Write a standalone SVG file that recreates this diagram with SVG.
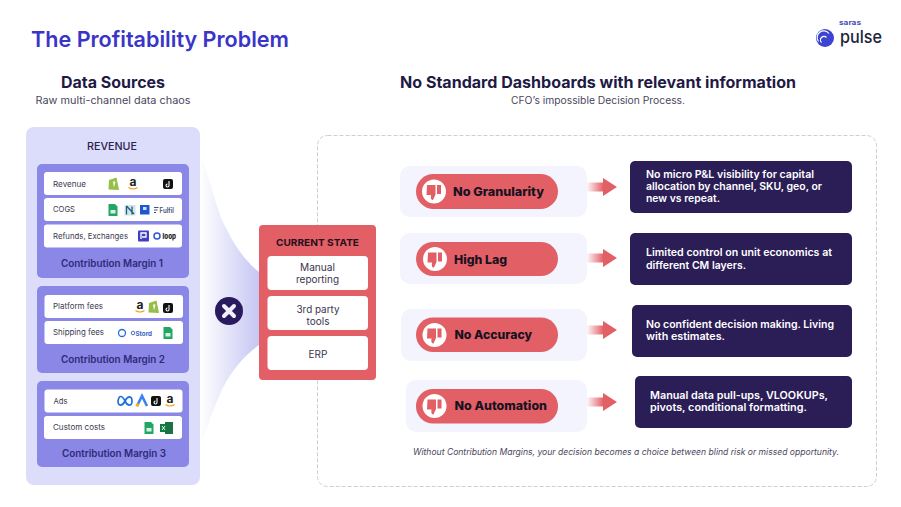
<svg xmlns="http://www.w3.org/2000/svg" width="901" height="507" viewBox="0 0 901 507">
<style>
text{font-family:Inter,"Open Sans","Liberation Sans",sans-serif;fill:#2b2350}
.row{fill:#fff}
.cm{fill:#8a87e6}
.cmt{font-size:10px;font-weight:600;text-anchor:middle;fill:#2f2a78}
.rt{font-size:8px;fill:#3d3a50}
.pale{fill:#f3f4fe}
.pill{fill:#e35f66}
.pt{font-size:12px;font-weight:800;fill:#17121f}
.dark{fill:#2b1e57}
.dt{font-size:10.500px;font-weight:600;fill:#fff}
.cs{font-size:10px;fill:#3a3450;text-anchor:middle}
.h{font-size:15.500px;font-weight:700;fill:#1f1a45;text-anchor:middle}
.s{font-size:10px;fill:#4a4660;text-anchor:middle}
</style>
<defs>
<linearGradient id="fg" x1="0" x2="1" y1="0" y2="0"><stop offset="0" stop-color="#fff"/><stop offset="1" stop-color="#c6c6f3"/></linearGradient>
<linearGradient id="ag" x1="0" x2="1" y1="0" y2="0"><stop offset="0" stop-color="#e35f66" stop-opacity="0.05"/><stop offset="0.55" stop-color="#e35f66"/></linearGradient>
<g id="thumb"><circle r="12" fill="#fff"/><path d="M-7,-6.500H1.500V3L-1,8.500C-3,8.500 -3.500,7 -3,3.500H-7.500Z M3,-6.500H7V2.500H3Z" fill="#e35f66"/></g>
<path id="arrow" d="M0,-4.500H16V-9L30,0L16,9V4.500H0Z" fill="url(#ag)"/>
<g id="shop"><path d="M-5,-4L2.500,-6.500L5,6L-5.500,5.500Z" fill="#95bf47"/><path d="M-1,-2.500L1.500,-2.500L0,3.500Z" fill="#fff"/></g>
<g id="amz"><text x="0" y="2.500" font-size="12" font-weight="700" text-anchor="middle" style="fill:#222">a</text><path d="M-4.500,4.500Q0,7.500 4.500,4.500" fill="none" stroke="#f59e0b" stroke-width="1.200"/></g>
<g id="tt"><rect x="-5" y="-5" width="10" height="10" rx="2" fill="#111"/><path d="M1,-3V1.500A1.500,1.500 0 1 1 -0.500,0" fill="none" stroke="#fff" stroke-width="1.100"/></g>
<g id="sheet"><path d="M-4.500,-6H2L4.500,-3.500V6H-4.500Z" fill="#23a566"/><rect x="-2.500" y="0" width="5" height="3.500" fill="#d6f3e2"/></g>
<g id="xl"><rect x="-1" y="-6" width="8" height="12" fill="#1e7145"/><rect x="-6" y="-4" width="7" height="8" fill="#107c41"/><path d="M-4,-2L-1,2M-1,-2L-4,2" stroke="#fff" stroke-width="0.900"/></g>
</defs>
<rect width="901" height="507" fill="#fff"/>

<g id="header">
<text x="31" y="47" font-size="22" font-weight="600" textLength="258" lengthAdjust="spacingAndGlyphs" style="fill:#3a35c6">The Profitability Problem</text>
<text x="113" y="88" class="h" textLength="104" lengthAdjust="spacingAndGlyphs">Data Sources</text>
<text x="113" y="104" class="s" textLength="155" lengthAdjust="spacingAndGlyphs">Raw multi-channel data chaos</text>
<text x="598" y="88" class="h" textLength="396" lengthAdjust="spacingAndGlyphs">No Standard Dashboards with relevant information</text>
<text x="598" y="104" class="s" textLength="174" lengthAdjust="spacingAndGlyphs">CFO’s impossible Decision Process.</text>
</g>

<g id="logo">
<circle cx="825" cy="38" r="9" fill="#3c44d0"/>
<path d="M818.500,41.500A6.500,6.500 0 0 1 829,33.500M821.500,42.500A3.500,3.500 0 0 1 826.500,37.500" fill="none" stroke="#fff" stroke-width="1.200"/>
<text x="839" y="25" font-size="7" font-weight="700" textLength="22" lengthAdjust="spacingAndGlyphs" style="fill:#4a4fc0">saras</text>
<text x="840" y="43" font-size="17.500" font-weight="500" textLength="42" lengthAdjust="spacingAndGlyphs" style="fill:#20243a">pulse</text>
</g>

<g id="connectors">
<path d="M200,153C212,185 218,215 226,228C234,245 246,262 259,272V345C245,355 235,367 226,382C216,400 208,425 200,448Z" fill="url(#fg)"/>
</g>

<g id="dashed-frame"><rect x="317.500" y="135.500" width="559" height="351" rx="10" fill="none" stroke="#cfcfcf" stroke-dasharray="4 2"/></g>

<g id="data-sources">
<rect x="26" y="127" width="174" height="358" rx="8" fill="#dcdcfb"/>
<text x="112" y="150" font-size="11" font-weight="500" text-anchor="middle" textLength="50" lengthAdjust="spacingAndGlyphs">REVENUE</text>
</g>

<g id="cm1">
<rect class="cm" x="37" y="164" width="152" height="114" rx="5"/>
<rect class="row" x="44" y="172" width="138" height="23" rx="3"/>
<rect class="row" x="44" y="198" width="138" height="23" rx="3"/>
<rect class="row" x="44" y="224.500" width="138" height="23" rx="3"/>
<text class="rt" x="53" y="186.500" textLength="33" lengthAdjust="spacingAndGlyphs">Revenue</text>
<text class="rt" x="53" y="212" textLength="22" lengthAdjust="spacingAndGlyphs">COGS</text>
<text class="rt" x="53" y="238.500" textLength="75" lengthAdjust="spacingAndGlyphs">Refunds, Exchanges</text>
<use href="#shop" x="114" y="184"/><use href="#amz" x="133" y="183"/><use href="#tt" x="168" y="184"/>
<use href="#sheet" x="113" y="210"/>
<rect x="124.500" y="205" width="11" height="10.500" fill="#cfe4ec"/><path d="M126.500,206V214.500M132,206.500V214.500M126.500,206L134,214" stroke="#1f5f7a" stroke-width="1.300" fill="none"/>
<rect x="140" y="205" width="9.500" height="9.500" fill="#1f55d0"/><rect x="143" y="207" width="3.500" height="3" fill="#cfe0ff"/>
<path d="M154,207.500H158.500M154,210H157.500M154,212.500H156" stroke="#44507a" stroke-width="1.200"/>
<text x="159.500" y="213" font-size="7" font-weight="600" textLength="14.500" lengthAdjust="spacingAndGlyphs" style="fill:#44507a">Fulfil</text>
<rect x="138" y="230.500" width="11" height="11" rx="1" fill="#3f3fc0"/><path d="M141,239V233H146V237H142" fill="none" stroke="#fff" stroke-width="1.300"/>
<circle cx="157" cy="236" r="3" fill="none" stroke="#2f55d4" stroke-width="1.500"/>
<text x="162.500" y="238.500" font-size="7.500" font-weight="800" textLength="13.500" lengthAdjust="spacingAndGlyphs" style="fill:#222">loop</text>
<text class="cmt" x="112" y="267" textLength="102" lengthAdjust="spacingAndGlyphs">Contribution Margin 1</text>
</g>

<g id="cm2">
<rect class="cm" x="37" y="286" width="152" height="87" rx="5"/>
<rect class="row" x="44.500" y="295" width="138.500" height="23" rx="3"/>
<rect class="row" x="44.500" y="321" width="138.500" height="23" rx="3"/>
<text class="rt" x="53" y="309" textLength="50" lengthAdjust="spacingAndGlyphs">Platform fees</text>
<text class="rt" x="53" y="335" textLength="51" lengthAdjust="spacingAndGlyphs">Shipping fees</text>
<use href="#amz" x="140" y="306"/><use href="#shop" x="154" y="307"/><use href="#tt" x="168" y="308"/>
<circle cx="122" cy="333" r="3.500" fill="none" stroke="#2f6bd4" stroke-width="1.300"/>
<circle cx="133" cy="333" r="1.800" fill="none" stroke="#3a5fc0" stroke-width="0.900"/>
<text x="135.500" y="335.500" font-size="6.500" font-weight="700" textLength="16.500" lengthAdjust="spacingAndGlyphs" style="fill:#3a5fc0">Stord</text>
<use href="#sheet" x="168" y="333"/>
<text class="cmt" x="113" y="363" textLength="104" lengthAdjust="spacingAndGlyphs">Contribution Margin 2</text>
</g>

<g id="cm3">
<rect class="cm" x="37" y="381" width="152" height="86" rx="5"/>
<rect class="row" x="44.500" y="389.500" width="138" height="23" rx="3"/>
<rect class="row" x="44" y="416" width="138" height="23" rx="3"/>
<text class="rt" x="53.500" y="404" textLength="14" lengthAdjust="spacingAndGlyphs">Ads</text>
<text class="rt" x="53" y="430" textLength="52" lengthAdjust="spacingAndGlyphs">Custom costs</text>
<path d="M118,401C119,395 122,395 125,401C128,407 132,406 132,401C132,396 128,395 125,401C122,407 118,406 118,401Z" fill="none" stroke="#1d6fe0" stroke-width="1.700"/>
<path d="M137,406L142,396L147,406" fill="none" stroke="#3b82f6" stroke-width="2.600"/>
<circle cx="137.500" cy="405" r="1.800" fill="#f4b400"/>
<use href="#tt" x="156" y="401"/><use href="#amz" x="170" y="400"/>
<use href="#sheet" x="149" y="428"/><use href="#xl" x="166" y="428"/>
<text class="cmt" x="114" y="457" textLength="104" lengthAdjust="spacingAndGlyphs">Contribution Margin 3</text>
</g>

<g id="x-badge">
<circle cx="229" cy="311" r="14" fill="#2a1a5e"/>
<path d="M224,306L234,316M234,306L224,316" stroke="#f2f0fa" stroke-width="4" stroke-linecap="round"/>
</g>

<g id="current-state">
<rect x="259" y="225" width="117" height="155" rx="4" fill="#e35f66"/>
<text x="317.500" y="246" font-size="9.500" font-weight="700" text-anchor="middle" textLength="83" lengthAdjust="spacingAndGlyphs" style="fill:#25101c">CURRENT STATE</text>
<rect class="row" x="267.500" y="256" width="100.500" height="34" rx="4"/>
<rect class="row" x="267.500" y="296" width="100.500" height="34" rx="4"/>
<rect class="row" x="267.500" y="336" width="100.500" height="34" rx="4"/>
<text class="cs" x="317.500" y="271" textLength="35" lengthAdjust="spacingAndGlyphs">Manual</text><text class="cs" x="317.500" y="283" textLength="43" lengthAdjust="spacingAndGlyphs">reporting</text>
<text class="cs" x="318" y="313" textLength="43" lengthAdjust="spacingAndGlyphs">3rd party</text><text class="cs" x="318" y="325">tools</text>
<text class="cs" x="318" y="358">ERP</text>
</g>

<g id="issue-granularity">
<rect class="pale" x="400" y="166" width="187" height="51" rx="10"/>
<rect class="pill" x="416" y="174" width="142" height="35" rx="17.500"/>
<use href="#thumb" x="434" y="191.500"/>
<text class="pt" x="453" y="196" textLength="91" lengthAdjust="spacingAndGlyphs">No Granularity</text>
<use href="#arrow" x="587" y="187"/>
<rect class="dark" x="630" y="161" width="222" height="52" rx="5"/>
<text class="dt" x="646" y="178" textLength="168" lengthAdjust="spacingAndGlyphs">No micro P&amp;L visibility for capital</text>
<text class="dt" x="646" y="190" textLength="176" lengthAdjust="spacingAndGlyphs">allocation by channel, SKU, geo, or</text>
<text class="dt" x="646" y="202" textLength="74" lengthAdjust="spacingAndGlyphs">new vs repeat.</text>
</g>

<g id="issue-lag">
<rect class="pale" x="400" y="233" width="187" height="51" rx="10"/>
<rect class="pill" x="416" y="242" width="142" height="34" rx="17"/>
<use href="#thumb" x="435" y="259"/>
<text class="pt" x="454" y="263.500" textLength="53" lengthAdjust="spacingAndGlyphs">High Lag</text>
<use href="#arrow" x="587" y="258"/>
<rect class="dark" x="630" y="233" width="222" height="52" rx="5"/>
<text class="dt" x="646" y="256" textLength="186" lengthAdjust="spacingAndGlyphs">Limited control on unit economics at</text>
<text class="dt" x="646" y="268.500" textLength="100" lengthAdjust="spacingAndGlyphs">different CM layers.</text>
</g>

<g id="issue-accuracy">
<rect class="pale" x="401" y="309" width="186" height="52" rx="10"/>
<rect class="pill" x="416" y="317.500" width="142" height="34.500" rx="17"/>
<use href="#thumb" x="434.500" y="335"/>
<text class="pt" x="454.500" y="338.500" textLength="77.500" lengthAdjust="spacingAndGlyphs">No Accuracy</text>
<use href="#arrow" x="587" y="330"/>
<rect class="dark" x="632" y="305" width="220" height="52" rx="5"/>
<text class="dt" x="646" y="328" textLength="188" lengthAdjust="spacingAndGlyphs">No confident decision making. Living</text>
<text class="dt" x="646" y="340" textLength="79" lengthAdjust="spacingAndGlyphs">with estimates.</text>
</g>

<g id="issue-automation">
<rect class="pale" x="406" y="380" width="181" height="52" rx="10"/>
<rect class="pill" x="416" y="389" width="142" height="34.500" rx="17"/>
<use href="#thumb" x="434.500" y="406"/>
<text class="pt" x="454.500" y="410" textLength="92.500" lengthAdjust="spacingAndGlyphs">No Automation</text>
<use href="#arrow" x="587" y="402"/>
<rect class="dark" x="635" y="376" width="217" height="52" rx="5"/>
<text class="dt" x="650" y="399" textLength="178" lengthAdjust="spacingAndGlyphs">Manual data pull-ups, VLOOKUPs,</text>
<text class="dt" x="650" y="411" textLength="157" lengthAdjust="spacingAndGlyphs">pivots, conditional formatting.</text>
</g>

<text id="footnote" x="413" y="455" font-size="9" font-style="italic" textLength="426" lengthAdjust="spacingAndGlyphs" style="fill:#4a4660">Without Contribution Margins, your decision becomes a choice between blind risk or missed opportunity.</text>
</svg>
